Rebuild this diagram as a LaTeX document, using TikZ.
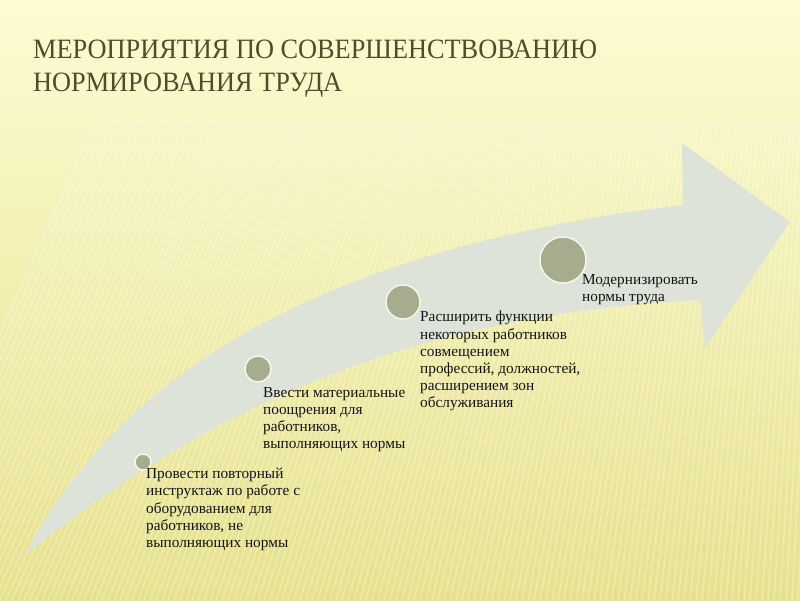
\documentclass[tikz,border=0pt]{standalone}
\usepackage{fontspec}
\setmainfont{Liberation Serif}
\newfontfamily\titlefont[FakeStretch=0.94]{Liberation Serif}
\usetikzlibrary{positioning}
\definecolor{bgtop}{HTML}{FCFCD3}
\definecolor{bgmid}{HTML}{F5F2B2}
\definecolor{bgbot}{HTML}{E6E18C}
\definecolor{arrowfill}{HTML}{DDE3D9}
\definecolor{dotfill}{HTML}{A6AD8F}
\definecolor{dotring}{HTML}{FAF8E8}
\definecolor{titlecol}{HTML}{4D4D2B}

\tikzset{
  dot/.style={circle, fill=dotfill, draw=dotring, line width=1.4pt, inner sep=0pt},
  steptext/.style={anchor=north west, inner sep=0pt, align=left,
    font=\fontsize{15.3}{17.2}\selectfont, text=black!92}
}

\begin{document}
\begin{tikzpicture}[x=1pt, y=-1pt]
  % Фон
  \useasboundingbox (0,0) rectangle (800,600);
  \shade[top color=bgtop, middle color=bgmid, bottom color=bgbot] (0,0) rectangle (800,600);
  \begin{scope}
    \clip (0,0) rectangle (800,600);
    \foreach \x in {-120,-114,...,800} {
      \pgfmathsetmacro{\dx}{480*(0.45-0.4*max(\x,0)/800)}
      \draw[white, opacity=0.3, line width=1.4pt] (\x,600) -- (\x+\dx,120);
    }
  \end{scope}

  % Заголовок
  \node[anchor=base west, inner sep=0pt, align=left, text=titlecol,
        font=\titlefont\fontsize{28}{33}\selectfont] (title) at (33,91)
    {МЕРОПРИЯТИЯ ПО СОВЕРШЕНСТВОВАНИЮ\\НОРМИРОВАНИЯ ТРУДА};

  % Изогнутая стрелка
  \fill[arrowfill] (25,555) .. controls (110,390) and (300,250) .. (683,205)
    -- (682,143) -- (790,222) -- (705,348) -- (700,300)
    .. controls (400,315) and (200,415) .. (25,555) -- cycle;

  % Этапы
  \node[dot, minimum size=16pt] (d1) at (143,462) {};
  \node[dot, minimum size=26pt] (d2) at (258,369) {};
  \node[dot, minimum size=34pt] (d3) at (403,302) {};
  \node[dot, minimum size=46pt] (d4) at (563,260) {};

  \node[steptext] (t1) at (146,468) {Провести повторный\\инструктаж по работе с\\оборудованием для\\работников, не\\выполняющих нормы};
  \node[steptext] (t2) at (263,387) {Ввести материальные\\поощрения для\\работников,\\выполняющих нормы};
  \node[steptext] (t3) at (420,311) {Расширить функции\\некоторых работников\\совмещением\\профессий, должностей,\\расширением зон\\обслуживания};
  \node[steptext] (t4) at (582,274) {Модернизировать\\нормы труда};
\end{tikzpicture}
\end{document}
